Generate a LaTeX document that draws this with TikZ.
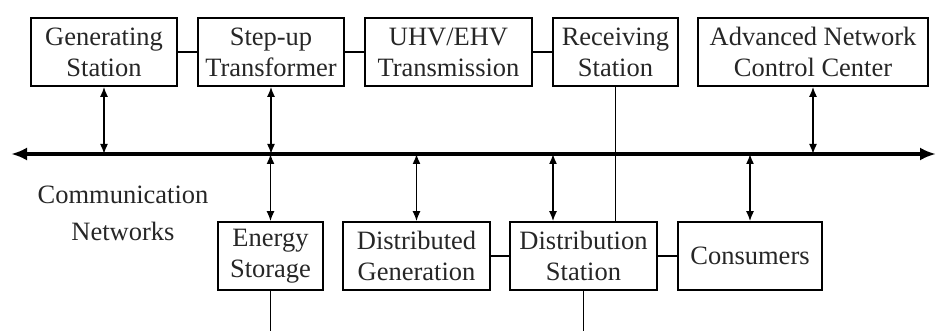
\documentclass[tikz,border=0pt]{standalone}
\usepackage{fontspec}
\setmainfont{Liberation Serif}
\usetikzlibrary{arrows.meta}
\begin{document}
\begin{tikzpicture}[x=1pt,y=-1pt,
  box/.style={draw, line width=1.6pt, minimum height=68pt, inner sep=0pt, align=center,
    font=\fontsize{26.5}{31}\selectfont, text=black!85},
  link/.style={line width=1.6pt},
  twoway/.style={line width=1.6pt, {Latex[length=10pt,width=8pt]}-{Latex[length=10pt,width=8pt]}},
  busline/.style={line width=3.2pt, {Latex[length=16pt,width=13pt]}-{Latex[length=16pt,width=13pt]}}]
\useasboundingbox (0,0) rectangle (936,331);
% top row
\node[box, minimum width=146pt] (gen) at (104,52) {Generating\\Station};
\node[box, minimum width=146pt] (step) at (271,52) {Step-up\\Transformer};
\node[box, minimum width=167pt] (uhv) at (448.5,52) {UHV/EHV\\Transmission};
\node[box, minimum width=125pt] (recv) at (615.5,52) {Receiving\\Station};
\node[box, minimum width=230pt] (ctrl) at (813,52) {Advanced Network\\Control Center};
% bottom row
\node[box, minimum width=105pt] (es) at (270.5,256) {Energy\\Storage};
\node[box, minimum width=147pt] (dg) at (416.5,256) {Distributed\\Generation};
\node[box, minimum width=147pt] (ds) at (583.5,256) {Distribution\\Station};
\node[box, minimum width=144pt] (cons) at (750,256) {Consumers};
% label
\node[align=center, font=\fontsize{26.5}{37}\selectfont, text=black!85] (comm) at (123,213) {Communication\\Networks};
% bus
\coordinate (busL) at (11,154);
\coordinate (busR) at (936,154);
\coordinate (bot) at (0,331);
\draw[busline] (busL) -- (busR);
% top links
\draw[link] (gen) -- (step);
\draw[link] (step) -- (uhv);
\draw[link] (uhv) -- (recv);
\draw[link] (dg) -- (ds);
\draw[link] (ds) -- (cons);
% top arrows to bus
\draw[twoway] (gen.south) -- (gen.south |- busL);
\draw[twoway] (step.south) -- (step.south |- busL);
\draw[twoway] (ctrl.south) -- (ctrl.south |- busL);
% bottom arrows from bus
\draw[twoway] (es.north |- busL) -- (es.north);
\draw[twoway] (dg.north |- busL) -- (dg.north);
\coordinate (dsa) at ([xshift=-30.5pt]ds.north);
\draw[twoway] (dsa |- busL) -- (dsa);
\draw[twoway] (cons.north |- busL) -- (cons.north);
% receiving to distribution
\draw[link] (recv.south) -- (recv.south |- ds.north);
% lines leaving bottom
\draw[link] (es.south) -- (es.south |- bot);
\draw[link] (ds.south) -- (ds.south |- bot);
\end{tikzpicture}
\end{document}
